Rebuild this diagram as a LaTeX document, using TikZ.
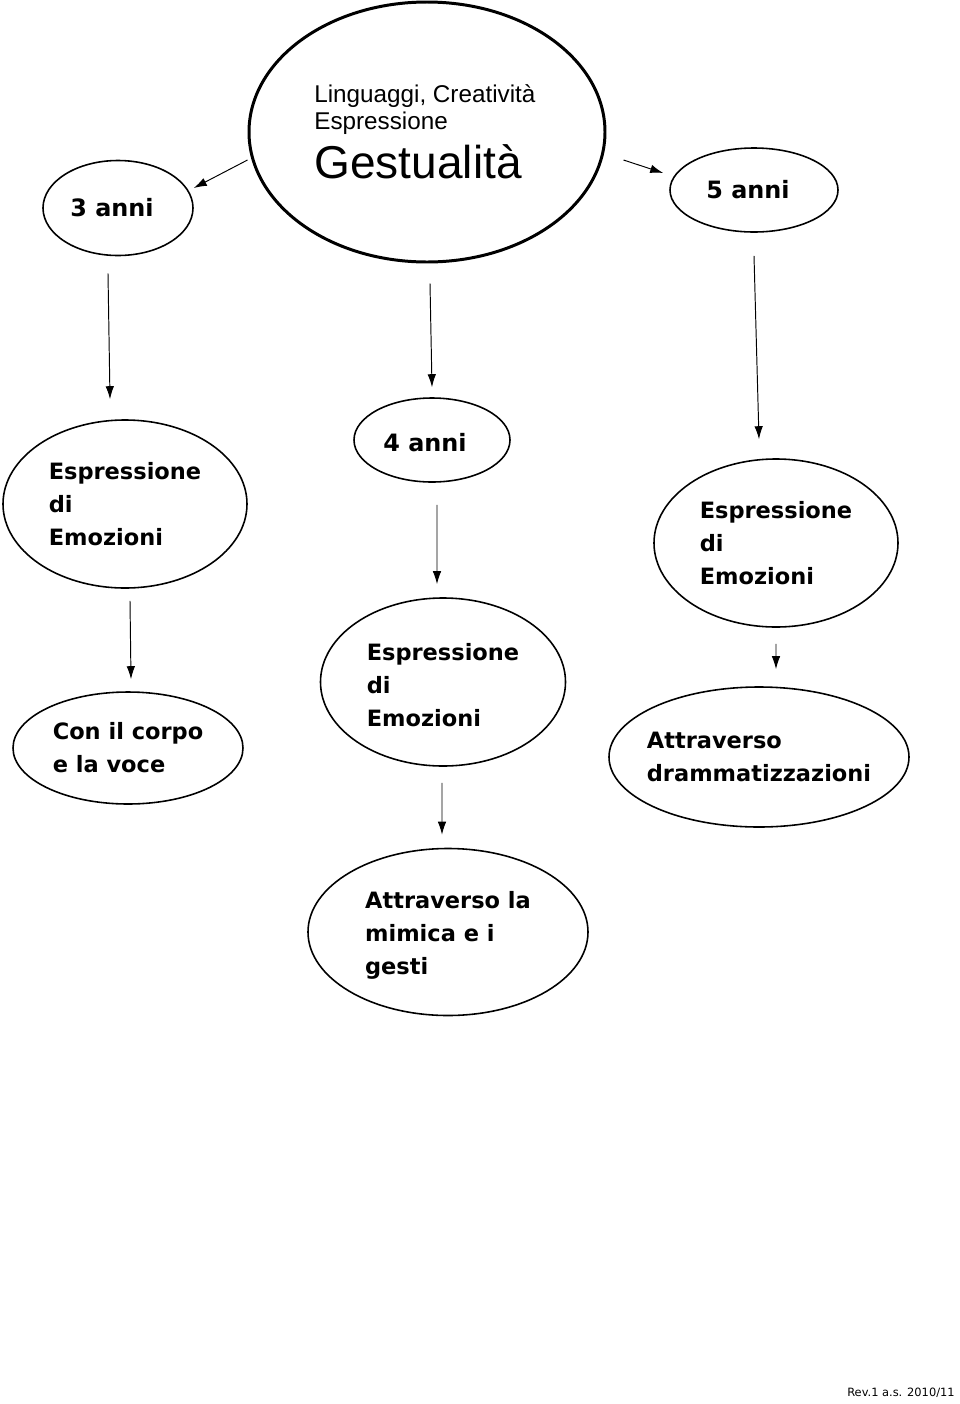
\documentclass[tikz,border=0pt]{standalone}
\usepackage{fontspec}
\setmainfont{Liberation Sans}
\newfontfamily\comicfont{DejaVu Sans}
\usetikzlibrary{shapes.geometric,arrows.meta}

\begin{document}
\begin{tikzpicture}[
    bubble/.style={ellipse, draw, line width=0.9pt, inner sep=0pt},
    bigbubble/.style={ellipse, draw, line width=1.7pt, inner sep=0pt},
    btext/.style={align=left, inner sep=0pt,
                  font=\comicfont\bfseries\fontsize{12.8}{18.8}\selectfont},
    atext/.style={btext, font=\comicfont\bfseries\fontsize{13.6}{18.8}\selectfont},
    arr/.style={-{Latex[length=2.6mm,width=1.7mm]}, line width=0.55pt},
    lbl/.style={font=\comicfont\fontsize{6.5}{8}\selectfont, inner sep=0pt},
  ]
  \useasboundingbox (0,0) rectangle (19.2,-28.08);

  % === top row ===
  \node[bigbubble, minimum width=7.12cm, minimum height=5.2cm] (big) at (8.54,-2.64) {};
  \node[align=left, inner sep=0pt, anchor=north west,
        font=\fontsize{13.8}{15.4}\selectfont] (tbig) at (6.28,-1.68)
    {Linguaggi, Creatività\\Espressione\\[5pt]\fontsize{26.2}{28}\selectfont Gestualità};

  \node[bubble, minimum width=3.0cm, minimum height=1.9cm] (a3) at (2.36,-4.16) {};
  \node[atext] (t3) at ([xshift=-0.12cm]a3.center) {3 anni};

  \node[bubble, minimum width=3.36cm, minimum height=1.68cm] (a5) at (15.08,-3.8) {};
  \node[atext] (t5) at ([xshift=-0.12cm]a5.center) {5 anni};

  % === second row ===
  \node[bubble, minimum width=4.88cm, minimum height=3.36cm] (emo1) at (2.5,-10.08) {};
  \node[btext] (temo1) at (emo1) {Espressione\\di\\Emozioni};

  \node[bubble, minimum width=3.12cm, minimum height=1.68cm] (a4) at (8.64,-8.8) {};
  \node[atext] (t4) at ([xshift=-0.14cm,yshift=-0.06cm]a4.center) {4 anni};

  \node[bubble, minimum width=4.88cm, minimum height=3.36cm] (emo3) at (15.52,-10.86) {};
  \node[btext] (temo3) at (emo3) {Espressione\\di\\Emozioni};

  % === third row ===
  \node[bubble, minimum width=4.6cm, minimum height=2.24cm] (corpo) at (2.56,-14.96) {};
  \node[btext] (tcorpo) at (corpo) {Con il corpo\\e la voce};

  \node[bubble, minimum width=4.9cm, minimum height=3.36cm] (emo2) at (8.86,-13.64) {};
  \node[btext] (temo2) at ([yshift=-0.06cm]emo2.center) {Espressione\\di\\Emozioni};

  \node[bubble, minimum width=6.0cm, minimum height=2.8cm] (dram) at (15.18,-15.14) {};
  \node[btext] (tdram) at (dram) {Attraverso\\drammatizzazioni};

  % === bottom ===
  \node[bubble, minimum width=5.6cm, minimum height=3.34cm] (mimica) at (8.96,-18.64) {};
  \node[btext] (tmimica) at ([yshift=-0.06cm]mimica.center) {Attraverso la\\mimica e i\\gesti};

  \node[lbl, anchor=east] (rev) at (19.1,-27.86) {Rev.1 a.s. 2010/11};

  % arrows
  \draw[arr] ([yshift=-0.56cm]big.west) -- ([yshift=0.4cm]a3.east);
  \draw[arr] ([xshift=0.34cm,yshift=-0.56cm]big.east) -- ([xshift=-0.12cm,yshift=0.34cm]a5.west);
  \draw[arr] ([xshift=-0.2cm,yshift=-0.34cm]a3.south) -- ([xshift=-0.3cm,yshift=0.4cm]emo1.north);
  \draw[arr] ([xshift=0.06cm,yshift=-0.4cm]big.south) -- ([yshift=0.2cm]a4.north);
  \draw[arr] ([yshift=-0.46cm]a5.south) -- ([xshift=-0.34cm,yshift=0.38cm]emo3.north);
  \draw[arr] ([xshift=0.1cm,yshift=-0.24cm]emo1.south) -- ([xshift=0.06cm,yshift=0.24cm]corpo.north);
  \draw[arr] ([xshift=0.1cm,yshift=-0.44cm]a4.south) -- ([xshift=-0.12cm,yshift=0.26cm]emo2.north);
  \draw[arr] ([yshift=-0.32cm]emo3.south) -- ([xshift=0.34cm,yshift=0.34cm]dram.north);
  \draw[arr] ([xshift=-0.02cm,yshift=-0.32cm]emo2.south) -- ([xshift=-0.12cm,yshift=0.26cm]mimica.north);

  \end{tikzpicture}
\end{document}
